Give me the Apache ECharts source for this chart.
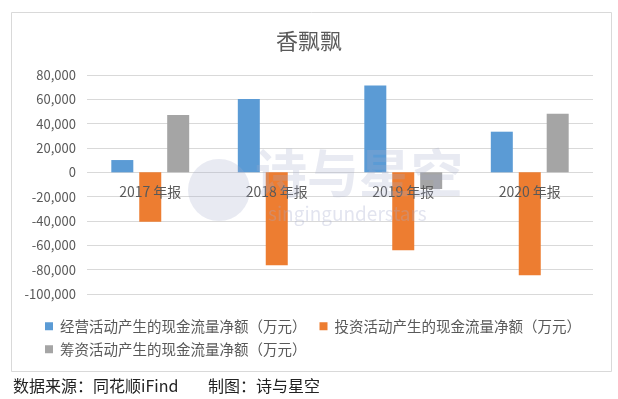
<!DOCTYPE html>
<html>
<head>
<meta charset="utf-8">
<script src="https://cdn.jsdelivr.net/npm/echarts@6/dist/echarts.min.js"></script>
<style>
  html, body { margin: 0; padding: 0; background: #fff; }
  #chart { width: 618px; height: 399px; }
</style>
</head>
<body>
<div id="chart"></div>
<script>
// 年报类别
const categories = ['2017 年报', '2018 年报', '2019 年报', '2020 年报'];
// 现金流量净额（万元），读图估计
const operating = [10100, 60300, 71300, 33400];
const investing = [-40700, -76300, -64000, -84500];
const financing = [47200, 0, -13700, 48200];
const seriesNames = [
  '经营活动产生的现金流量净额（万元）',
  '投资活动产生的现金流量净额（万元）',
  '筹资活动产生的现金流量净额（万元）'
];
const yTicks = { min: -100000, max: 80000, step: 20000 };

const font = '"Noto Sans CJK SC", "Microsoft YaHei", sans-serif';
const chart = echarts.init(document.getElementById('chart'), null, { renderer: 'canvas' });

// 网格尺寸，类别标签放在 0 线下方
const gridTop = 75, gridBottom = 105;
const gridH = 399 - gridTop - gridBottom;
const zeroOffset = -gridH * (0 - yTicks.min) / (yTicks.max - yTicks.min);

const option = {
  animation: false,
  backgroundColor: '#fff',
  textStyle: { fontFamily: font },
  title: {
    text: '香飘飘',
    left: 'center',
    top: 25,
    textStyle: { fontSize: 22, fontWeight: 'normal', color: '#595959', fontFamily: font }
  },
  legend: [
    {
      data: [seriesNames[0], seriesNames[1]],
      left: 40,
      top: 314,
      icon: 'rect',
      itemWidth: 8,
      itemHeight: 8,
      itemGap: 13,
      textStyle: { fontSize: 14.5, color: '#595959', fontFamily: font, padding: [0, 0, 0, 2] }
    },
    {
      data: [seriesNames[2]],
      left: 40,
      top: 337,
      icon: 'rect',
      itemWidth: 8,
      itemHeight: 8,
      textStyle: { fontSize: 14.5, color: '#595959', fontFamily: font, padding: [0, 0, 0, 2] }
    }
  ],
  grid: { left: 87, right: 25, top: gridTop, bottom: gridBottom, containLabel: false },
  xAxis: {
    type: 'category',
    data: categories,
    z: 3,
    offset: zeroOffset,
    axisLine: { show: false },
    axisTick: { show: false },
    axisLabel: { fontSize: 14, color: '#595959', margin: 12, fontFamily: font }
  },
  yAxis: {
    type: 'value',
    min: yTicks.min,
    max: yTicks.max,
    interval: yTicks.step,
    axisLine: { show: false },
    axisTick: { show: false },
    splitLine: { lineStyle: { color: '#d9d9d9', width: 1 } },
    axisLabel: {
      fontSize: 13,
      color: '#595959',
      margin: 11,
      fontFamily: font,
      formatter: v => v.toLocaleString('en-US')
    }
  },
  series: [
    { name: seriesNames[0], type: 'bar', data: operating, barWidth: 22, barGap: '27%', itemStyle: { color: '#5B9BD5' } },
    { name: seriesNames[1], type: 'bar', data: investing, barWidth: 22, barGap: '27%', itemStyle: { color: '#ED7D31' } },
    { name: seriesNames[2], type: 'bar', data: financing, barWidth: 22, barGap: '27%', itemStyle: { color: '#A5A5A5' } }
  ],
  graphic: [
    // 外框
    {
      type: 'rect',
      shape: { x: 11.5, y: 12.5, width: 600, height: 359 },
      style: { fill: 'none', stroke: '#d9d9d9', lineWidth: 1 },
      silent: true,
      z: -1
    },
    // 水印
    {
      type: 'circle',
      shape: { cx: 219, cy: 190, r: 31 },
      style: { fill: 'rgba(165,172,205,0.25)' },
      silent: true,
      z: 10
    },
    {
      type: 'text',
      left: 255,
      top: 147,
      style: { text: '诗与星空', fontSize: 52, fontWeight: 'bold', fill: 'rgba(165,172,205,0.25)', fontFamily: font },
      silent: true,
      z: 10
    },
    {
      type: 'text',
      left: 268,
      top: 204,
      style: { text: 'singingunderstars', fontSize: 19, fill: 'rgba(165,172,205,0.32)', fontFamily: font },
      silent: true,
      z: 10
    },
    // 数据来源
    {
      type: 'text',
      left: 13,
      top: 378,
      style: { text: '数据来源：同花顺iFind', fontSize: 16, fill: '#222', fontFamily: font }
    },
    {
      type: 'text',
      left: 208,
      top: 378,
      style: { text: '制图：诗与星空', fontSize: 16, fill: '#222', fontFamily: font }
    }
  ]
};

chart.setOption(option);
</script>
</body>
</html>
